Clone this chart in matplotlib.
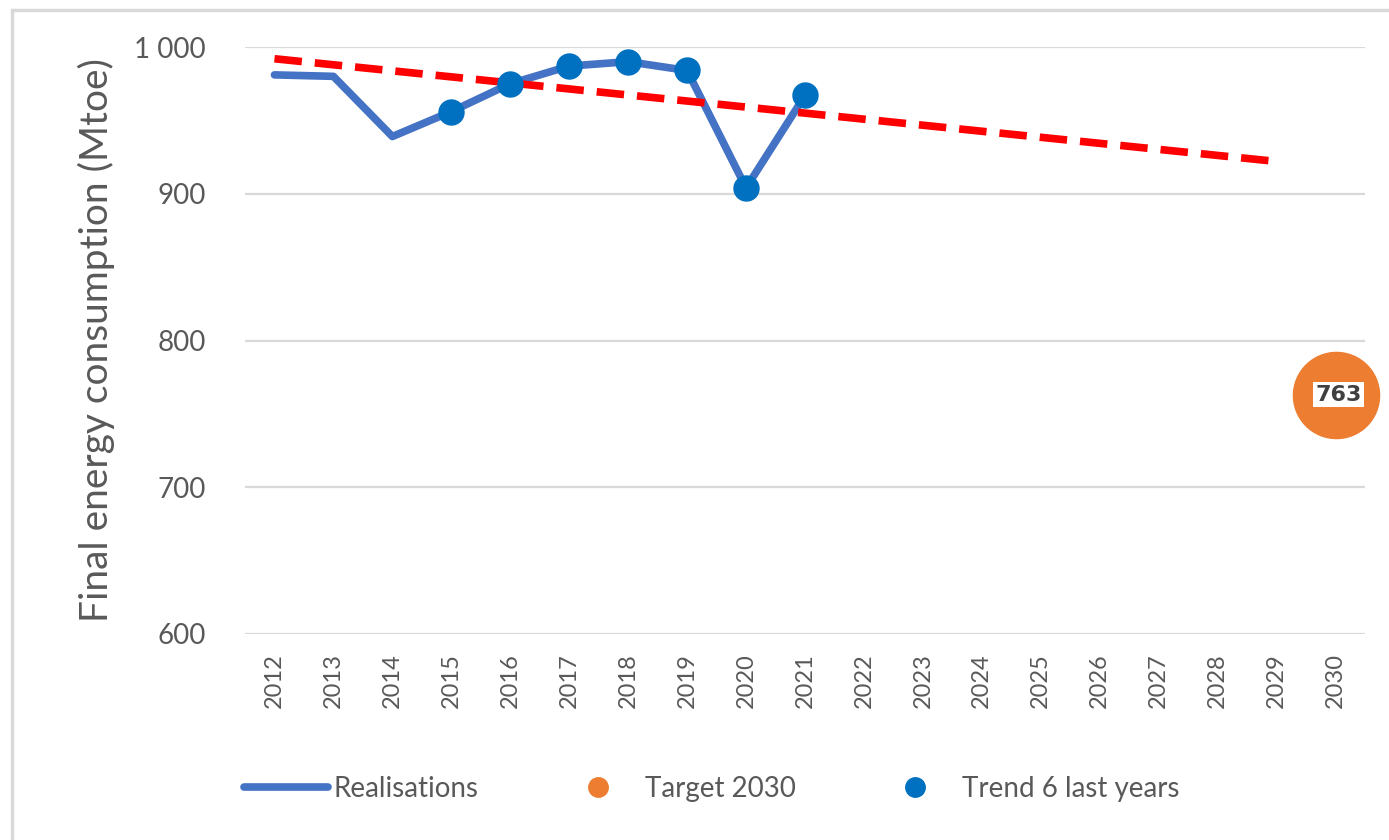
import matplotlib
matplotlib.use("Agg")
import matplotlib.pyplot as plt
from matplotlib.lines import Line2D
from matplotlib.patches import Rectangle

years = [str(y) for y in range(2012, 2031)]
real_years = ["2012", "2013", "2014", "2015", "2016", "2017", "2018", "2019", "2020", "2021"]
real_values = [981, 980, 939, 956, 975, 987, 990, 984, 904, 967]
trend_years = ["2015", "2016", "2017", "2018", "2019", "2020", "2021"]
trend_values = [956, 975, 987, 990, 984, 904, 967]
trendline_years = ["2012", "2029"]
trendline_values = [992, 922]
target_year = ["2030"]
target_value = [763]
yticks = [600, 700, 800, 900, 1000]
ytick_labels = ["600", "700", "800", "900", "1 000"]

plt.rcParams['font.family'] = ['Lato', 'DejaVu Sans']
gray = "#595959"

fig = plt.figure(figsize=(13.89, 8.4), dpi=100)
fig.patches.append(Rectangle((12/1389, -0.01), 1.0, 1 - 10/840 + 0.01, transform=fig.transFigure,
                             fill=False, edgecolor="#D9D9D9", linewidth=2.5))
ax = fig.add_axes([245/1389, 1 - 634/840, 1120/1389, 587/840])

idx = {y: i for i, y in enumerate(years)}
xr = [idx[y] for y in real_years]
xt = [idx[y] for y in trend_years]
xl = [idx[y] for y in trendline_years]
xg = [idx[y] for y in target_year]

ax.plot(xr, real_values, color="#4472C4", linewidth=5.5, solid_capstyle="round", zorder=3)
ax.plot(xl, trendline_values, color="#FF0000", linewidth=5.5, linestyle=(0, (3.6, 1.7)), zorder=4)
ax.plot(xt, trend_values, linestyle="none", marker="o", markersize=18, color="#0070C0", zorder=5)
ax.plot(xg, target_value, linestyle="none", marker="o", markersize=62, color="#ED7D31", zorder=5,
        clip_on=False)
for x, v in zip(xg, target_value):
    ax.text(x + 0.05, v, f"{v}", ha="center", va="center", fontsize=16, fontweight="bold", color="#404040",
            family=['DejaVu Sans'],
            bbox=dict(boxstyle="square,pad=0.12", facecolor="white", edgecolor="none"), zorder=6)

ax.set_xlim(-0.5, len(years) - 0.5)
ax.set_ylim(600, 1000)
ax.set_yticks(yticks)
ax.set_yticklabels(ytick_labels)
ax.set_xticks(range(len(years)))
ax.set_xticklabels(years, rotation=90)
ax.tick_params(axis="y", length=0, labelsize=20, labelcolor=gray, pad=28)
ax.tick_params(axis="x", length=0, labelsize=17, labelcolor=gray, pad=14)
ax.grid(axis="y", color="#D9D9D9", linewidth=1.6)
ax.set_axisbelow(True)
for s in ax.spines.values():
    s.set_visible(False)
ax.set_ylabel("Final energy consumption (Mtoe)", fontsize=28, color=gray, labelpad=14)

handles = [
    Line2D([0], [0], color="#4472C4", linewidth=5.5, solid_capstyle="round"),
    Line2D([0], [0], linestyle="none", marker="o", markersize=14, color="#ED7D31"),
    Line2D([0], [0], linestyle="none", marker="o", markersize=14, color="#0070C0"),
]
labels = ["Realisations", "Target 2030", "Trend 6 last years"]
fig.legend(handles, labels, loc="center", bbox_to_anchor=(712/1389, 1 - 789/840), ncol=3,
           frameon=False, fontsize=20, labelcolor=gray, handlelength=3.0, handletextpad=0.2,
           columnspacing=2.8)

fig.savefig("out.png", dpi=100, facecolor="white")
